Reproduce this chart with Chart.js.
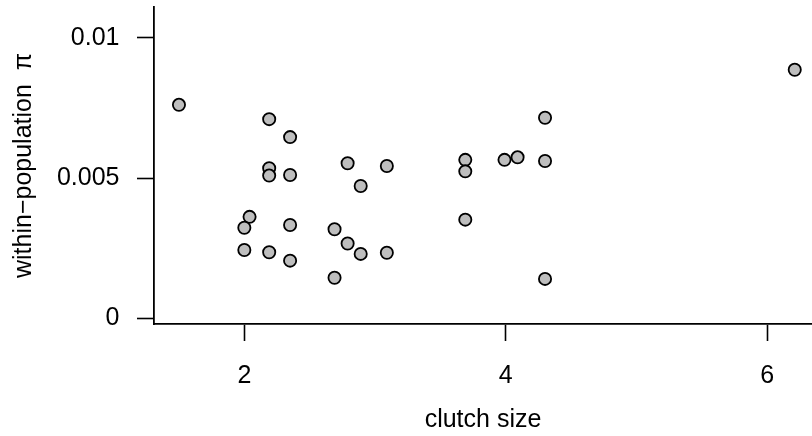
<!DOCTYPE html>
<html>
<head>
<meta charset="utf-8">
<script src="https://cdn.jsdelivr.net/npm/chart.js@4.4.1/dist/chart.umd.min.js"></script>
<style>
html,body{margin:0;padding:0;background:#fff;overflow:hidden;}
canvas{display:block;}
</style>
</head>
<body>
<canvas id="c" width="812" height="436"></canvas>
<script>
// clutch size (x) and within-population pi (y)
const clutchSize = [1.50, 2.19, 2.35, 2.19, 2.19, 2.35, 2.79, 3.09, 2.89, 3.69, 3.69, 3.69,
                    2.04, 2.00, 2.35, 2.00, 2.19, 2.35, 2.69, 2.79, 2.89, 3.09, 2.69,
                    6.21, 4.30, 4.30, 4.30, 3.99, 4.09];
const withinPi   = [0.00761, 0.00710, 0.00646, 0.00535, 0.00509, 0.00511, 0.00553, 0.00543, 0.00472, 0.00565, 0.00524, 0.00352,
                    0.00362, 0.00323, 0.00333, 0.00244, 0.00236, 0.00206, 0.00318, 0.00267, 0.00230, 0.00234, 0.00145,
                    0.00886, 0.00715, 0.00561, 0.00141, 0.00565, 0.00574];
const xTicks = [2, 4, 6];
const yTicks = [0, 0.005, 0.01];
const yTickLabels = ["0", "0.005", "0.01"];

const points = clutchSize.map((x, i) => ({x: x, y: withinPi[i]}));
const FONT = "'Liberation Sans', Arial, Helvetica, sans-serif";

new Chart(document.getElementById('c'), {
  type: 'scatter',
  data: {
    datasets: [{
      data: points,
      backgroundColor: '#bebebe',
      borderColor: '#000000',
      borderWidth: 1.8,
      pointRadius: 6.1,
      pointHoverRadius: 6.1,
      clip: false
    }]
  },
  options: {
    responsive: false,
    animation: false,
    devicePixelRatio: 1,
    layout: { autoPadding: false, padding: { top: 7, right: 0, left: 0, bottom: 0 } },
    plugins: { legend: { display: false }, tooltip: { enabled: false } },
    scales: {
      x: {
        type: 'linear',
        min: 1.309,
        max: 6.342,
        afterBuildTicks: s => { s.ticks = xTicks.map(v => ({value: v})); },
        afterFit: s => { s.height = 112; s.paddingLeft = 0; s.paddingRight = 0; },
        ticks: { color: '#000', font: { family: FONT, size: 25 }, padding: 20, maxRotation: 0,
                 callback: v => String(v) },
        grid: { display: true, drawOnChartArea: false, drawTicks: true, tickLength: 17,
                tickWidth: 1.6, tickColor: '#000' },
        border: { display: true, color: '#000', width: 1.8 },
        title: { display: true, text: 'clutch size', color: '#000',
                 font: { family: FONT, size: 25, lineHeight: 1.2 }, padding: { top: 0, bottom: 1 } }
      },
      y: {
        type: 'linear',
        min: -0.000196,
        max: 0.011093,
        afterBuildTicks: s => { s.ticks = yTicks.map(v => ({value: v})); },
        afterFit: s => { s.width = 154; s.paddingTop = 0; s.paddingBottom = 0; },
        ticks: { color: '#000', font: { family: FONT, size: 25 }, padding: 17.5,
                 callback: v => { const i = yTicks.indexOf(v); return i >= 0 ? yTickLabels[i] : ''; } },
        grid: { display: true, drawOnChartArea: false, drawTicks: true, tickLength: 17,
                tickWidth: 1.6, tickColor: '#000' },
        border: { display: true, color: '#000', width: 1.8 },
        title: { display: true, text: 'within\u2212population  \u03C0', color: '#000',
                 font: { family: FONT, size: 25, lineHeight: 1.2 }, padding: { top: 9, bottom: 0 } }
      }
    }
  }
});
</script>
</body>
</html>
